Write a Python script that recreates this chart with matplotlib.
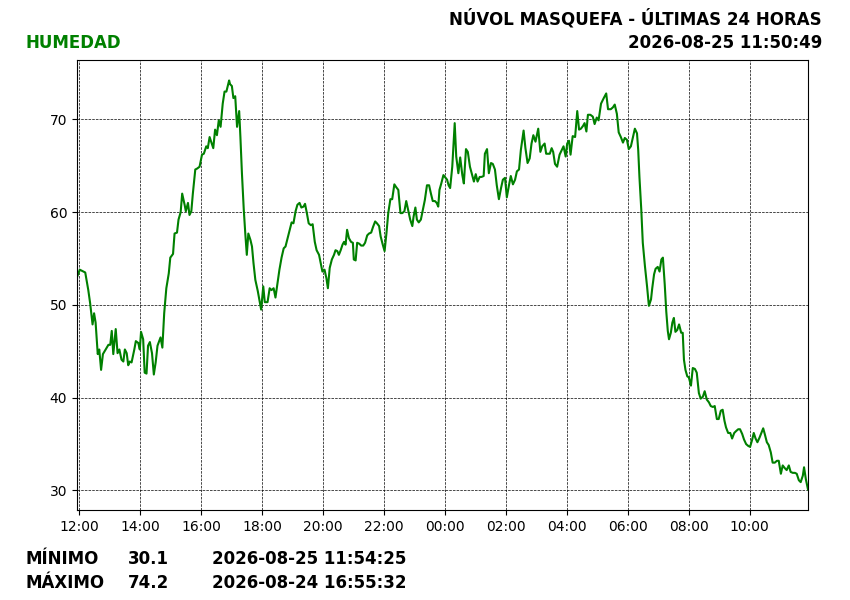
import datetime as dt
import matplotlib
matplotlib.use("Agg")
import matplotlib.pyplot as plt
import matplotlib.dates as mdates

# Horas desde 2026-08-24 12:00 y humedad relativa (%)
horas = [
    -0.07, 0.02, 0.20, 0.30, 0.36, 0.44, 0.49, 0.54, 0.61, 0.66, 0.72, 0.78,
    0.87, 0.96, 1.02, 1.07, 1.12, 1.20, 1.26, 1.32, 1.39, 1.45, 1.50, 1.56,
    1.61, 1.66, 1.72, 1.81, 1.86, 1.94, 1.99, 2.03, 2.10, 2.15, 2.21, 2.26,
    2.32, 2.39, 2.45, 2.51, 2.57, 2.67, 2.73, 2.79, 2.86, 2.94, 2.99, 3.08,
    3.13, 3.21, 3.26, 3.33, 3.38, 3.46, 3.50, 3.57, 3.62, 3.68, 3.73, 3.81,
    3.87, 3.95, 4.03, 4.09, 4.17, 4.22, 4.28, 4.33, 4.40, 4.46, 4.52, 4.58,
    4.64, 4.71, 4.77, 4.83, 4.92, 4.95, 5.01, 5.06, 5.12, 5.18, 5.25, 5.29,
    5.34, 5.40, 5.45, 5.50, 5.55, 5.62, 5.67, 5.72, 5.78, 5.86, 5.92, 5.97,
    6.04, 6.09, 6.18, 6.25, 6.31, 6.38, 6.44, 6.51, 6.57, 6.64, 6.71, 6.77,
    6.84, 6.90, 6.97, 7.03, 7.10, 7.16, 7.23, 7.29, 7.36, 7.41, 7.47, 7.53,
    7.60, 7.66, 7.73, 7.79, 7.87, 7.92, 7.98, 8.05, 8.11, 8.16, 8.22, 8.29,
    8.36, 8.41, 8.47, 8.52, 8.58, 8.64, 8.69, 8.74, 8.79, 8.85, 8.92, 8.98,
    9.01, 9.07, 9.12, 9.19, 9.25, 9.32, 9.38, 9.45, 9.51, 9.58, 9.64, 9.71,
    9.77, 9.84, 9.89, 9.96, 10.02, 10.08, 10.14, 10.21, 10.27, 10.34, 10.40,
    10.47, 10.54, 10.60, 10.67, 10.73, 10.80, 10.86, 10.93, 10.97, 11.03,
    11.08, 11.14, 11.21, 11.28, 11.34, 11.41, 11.48, 11.54, 11.60, 11.67,
    11.73, 11.78, 11.82, 11.88, 11.95, 12.07, 12.12, 12.17, 12.24, 12.32,
    12.37, 12.44, 12.50, 12.57, 12.62, 12.69, 12.75, 12.82, 12.90, 12.95,
    13.01, 13.07, 13.14, 13.20, 13.27, 13.31, 13.38, 13.44, 13.51, 13.57,
    13.64, 13.70, 13.77, 13.84, 13.90, 13.97, 14.03, 14.10, 14.16, 14.23,
    14.30, 14.36, 14.43, 14.49, 14.58, 14.64, 14.71, 14.78, 14.84, 14.90,
    14.97, 15.06, 15.13, 15.19, 15.27, 15.32, 15.39, 15.44, 15.50, 15.55,
    15.61, 15.68, 15.76, 15.83, 15.89, 15.96, 16.01, 16.07, 16.12, 16.19,
    16.27, 16.34, 16.40, 16.46, 16.53, 16.58, 16.64, 16.69, 16.77, 16.85,
    16.91, 16.98, 17.04, 17.12, 17.21, 17.29, 17.35, 17.44, 17.51, 17.57,
    17.64, 17.70, 17.77, 17.84, 17.90, 17.97, 18.03, 18.10, 18.16, 18.23,
    18.30, 18.34, 18.38, 18.44, 18.49, 18.56, 18.63, 18.69, 18.76, 18.80,
    18.86, 18.91, 18.98, 19.04, 19.10, 19.15, 19.21, 19.26, 19.31, 19.35,
    19.41, 19.46, 19.51, 19.56, 19.62, 19.68, 19.75, 19.80, 19.84, 19.89,
    19.95, 20.00, 20.07, 20.13, 20.20, 20.26, 20.33, 20.39, 20.46, 20.52,
    20.59, 20.66, 20.72, 20.79, 20.85, 20.92, 20.98, 21.05, 21.11, 21.17,
    21.22, 21.29, 21.36, 21.42, 21.49, 21.55, 21.62, 21.68, 21.75, 21.81,
    21.88, 21.95, 22.01, 22.08, 22.13, 22.19, 22.25, 22.32, 22.38, 22.44,
    22.49, 22.56, 22.62, 22.69, 22.75, 22.82, 22.89, 22.95, 23.02, 23.08,
    23.15, 23.21, 23.28, 23.34, 23.41, 23.48, 23.54, 23.61, 23.67, 23.74,
    23.78, 23.84, 23.91,
]
humedad = [
    53.0, 53.8, 53.5, 51.6, 50.2, 47.9, 49.1, 48.1, 44.7, 45.2, 43.0, 44.7,
    45.2, 45.7, 45.7, 47.2, 44.7, 47.4, 44.8, 45.2, 44.1, 43.9, 45.2, 44.8,
    43.5, 43.9, 43.8, 45.2, 46.1, 45.9, 45.2, 47.1, 46.3, 42.7, 42.6, 45.6,
    46.0, 44.8, 42.5, 43.8, 45.6, 46.5, 45.4, 49.1, 51.8, 53.4, 55.1, 55.5,
    57.7, 57.8, 59.2, 60.0, 62.0, 60.8, 60.1, 61.0, 59.7, 60.1, 62.0, 64.6,
    64.7, 64.9, 66.2, 66.3, 67.1, 66.9, 68.1, 67.6, 66.9, 68.9, 68.3, 69.9,
    69.2, 71.7, 73.0, 73.0, 74.2, 73.8, 73.6, 72.3, 72.5, 69.2, 70.9, 68.1,
    64.2, 60.3, 57.7, 55.4, 57.7, 57.0, 56.3, 54.5, 52.7, 51.5, 50.4, 49.5,
    52.0, 50.3, 50.3, 51.8, 51.6, 51.8, 50.8, 52.4, 53.8, 55.1, 56.1, 56.3,
    57.2, 58.0, 58.9, 58.8, 60.1, 60.8, 61.0, 60.5, 60.6, 60.9, 59.9, 58.8,
    58.6, 58.7, 56.8, 55.9, 55.4, 54.6, 53.6, 53.8, 52.9, 51.8, 54.0, 54.9,
    55.4, 55.9, 55.8, 55.4, 55.9, 56.5, 56.8, 56.5, 58.1, 57.2, 56.8, 56.7,
    54.9, 54.8, 56.7, 56.6, 56.4, 56.4, 56.7, 57.5, 57.7, 57.8, 58.4, 59.0,
    58.8, 58.5, 57.4, 56.5, 55.8, 57.7, 59.9, 61.4, 61.4, 63.0, 62.7,
    62.4, 59.9, 59.9, 60.1, 61.2, 60.1, 59.2, 58.5, 59.5, 60.5,
    59.2, 58.9, 59.2, 60.3, 61.3, 62.9, 62.9, 62.0, 61.2, 61.2,
    61.0, 60.6, 62.4, 63.1, 64.0, 63.5, 62.9, 62.6, 64.9, 69.6,
    66.0, 64.2, 65.9, 64.0, 63.1, 66.8, 66.5, 64.9, 63.9, 63.3,
    64.1, 63.3, 63.8, 63.8, 63.9, 66.3, 66.8, 64.2, 65.3, 65.2,
    64.6, 62.9, 61.4, 62.6, 63.5, 63.7, 61.6, 62.9, 63.9, 63.0,
    63.5, 64.4, 64.6, 66.7, 68.8, 66.9, 65.3, 65.8, 67.4, 68.3,
    67.6, 69.0, 66.5, 67.1, 67.4, 66.3, 66.3, 66.3, 66.9, 66.5,
    65.2, 64.9, 66.2, 66.7, 67.1, 66.0, 67.4, 67.7, 66.2, 68.2,
    68.1, 70.9, 68.9, 69.0, 69.3, 69.6, 68.7, 70.5, 70.5, 70.3,
    69.5, 70.2, 69.9, 71.7, 72.3, 72.8, 71.1, 71.1, 71.3, 71.6,
    70.6, 68.6, 68.1, 67.5, 68.0, 67.8, 66.8, 67.1, 68.0, 69.0,
    68.5, 66.7, 63.8, 60.3, 56.7, 54.2, 52.0, 49.9, 50.6, 51.8,
    53.3, 53.9, 54.1, 53.6, 54.9, 55.1, 52.2, 49.3, 47.2, 46.3,
    47.0, 48.1, 48.6, 47.1, 47.3, 47.9, 47.0, 47.0, 44.1, 43.0,
    42.3, 42.2, 41.3, 43.2, 43.1, 42.7, 40.5, 39.9, 40.1, 40.7,
    39.8, 39.5, 39.1, 39.0, 39.1, 37.7, 37.7, 38.6, 38.7, 37.5,
    36.8, 36.2, 36.2, 35.6, 36.2, 36.4, 36.6, 36.6, 36.1, 35.5,
    35.0, 34.8, 34.7, 35.5, 36.2, 35.6, 35.2, 35.7, 36.2, 36.7,
    36.1, 35.2, 34.9, 34.1, 33.0, 33.0, 33.2, 33.2, 31.8, 32.7,
    32.4, 32.2, 32.7, 32.0, 31.9, 31.9, 31.8, 31.1, 30.9, 31.6,
    32.5, 31.2, 30.1,
]

titulo = "NÚVOL MASQUEFA - ÚLTIMAS 24 HORAS"
fecha = "2026-08-25 11:50:49"
variable = "HUMEDAD"
minimo = ("MÍNIMO", "30.1", "2026-08-25 11:54:25")
maximo = ("MÁXIMO", "74.2", "2026-08-24 16:55:32")

inicio = dt.datetime(2026, 8, 24, 12, 0)
tiempos = [inicio + dt.timedelta(hours=h) for h in horas]

fig = plt.figure(figsize=(8.5, 6), dpi=100)
ax = fig.add_axes([0.0906, 0.15, 0.86, 0.75])

ax.plot(tiempos, humedad, color="green", linewidth=1.5)
ax.set_xlim(tiempos[0], tiempos[-1])
ax.margins(y=0.05)
ax.set_yticks([30, 40, 50, 60, 70])
ax.xaxis.set_major_locator(mdates.HourLocator(byhour=range(0, 24, 2)))
ax.xaxis.set_major_formatter(mdates.DateFormatter("%H:%M"))
ax.grid(True, color="black", linestyle="--", linewidth=0.5)
ax.tick_params(labelsize=10)

# Cabecera
fig.text(0.967, 0.969, titulo, ha="right", va="center",
         fontsize=12, fontweight="bold")
fig.text(0.968, 0.929, fecha, ha="right", va="center",
         fontsize=12, fontweight="bold")
fig.text(0.030, 0.929, variable, ha="left", va="center",
         fontsize=12, fontweight="bold", color="green")

# Pie con mínimo y máximo
for fila, y in ((minimo, 0.069), (maximo, 0.029)):
    fig.text(0.030, y, fila[0], ha="left", va="center", fontsize=12, fontweight="bold")
    fig.text(0.150, y, fila[1], ha="left", va="center", fontsize=12, fontweight="bold")
    fig.text(0.249, y, fila[2], ha="left", va="center", fontsize=12, fontweight="bold")

fig.savefig("out.png", dpi=100)
